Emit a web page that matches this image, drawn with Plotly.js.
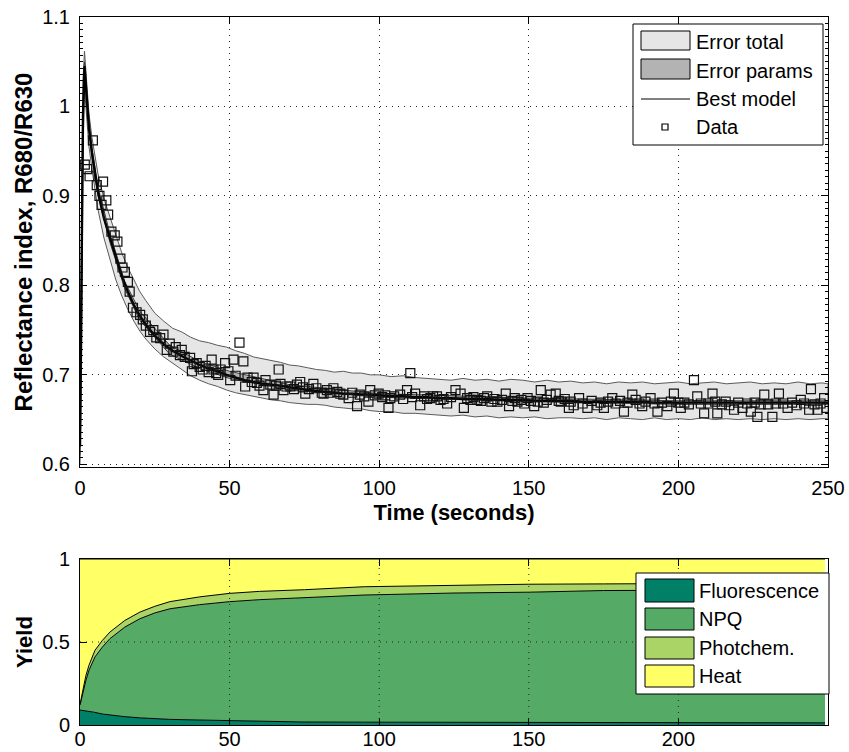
<!DOCTYPE html>
<html><head><meta charset="utf-8">
<script src="https://cdn.plot.ly/plotly-3.0.1.min.js"></script>
<style>html,body{margin:0;padding:0;background:#fff;}#chart{width:849px;height:752px;}</style>
</head><body><div id="chart"></div>
<script>
// ---------- DATA ----------
const bandTime = [0,0.5,1,1.5,2,3,4,5,6,8,10,12,14,16,18,20,22,25,28,31,34,37,40,43,46,49,52,55,58,61,64,67,70,73,76,79,82,85,88,91,94,97,100,104,108,112,116,120,124,128,132,136,140,144,148,152,156,160,164,168,172,176,180,184,188,192,196,200,204,208,212,216,220,224,228,232,236,240,244,248,250];
const errTotalUpper = [0.66,0.85,1.03,1.062,1.04,0.992,0.965,0.943,0.925,0.897,0.876,0.855,0.836,0.820,0.806,0.793,0.783,0.769,0.760,0.752,0.748,0.742,0.738,0.736,0.733,0.731,0.727,0.724,0.720,0.718,0.716,0.714,0.711,0.710,0.708,0.706,0.705,0.703,0.704,0.702,0.702,0.700,0.700,0.698,0.699,0.697,0.696,0.695,0.694,0.696,0.694,0.695,0.693,0.695,0.694,0.692,0.694,0.692,0.693,0.691,0.692,0.690,0.692,0.691,0.692,0.690,0.691,0.692,0.690,0.691,0.692,0.690,0.691,0.692,0.690,0.691,0.690,0.692,0.690,0.691,0.690];
const errTotalLower = [0.60,0.70,0.95,1.02,0.995,0.955,0.930,0.905,0.885,0.853,0.829,0.806,0.788,0.773,0.760,0.749,0.740,0.729,0.720,0.712,0.706,0.699,0.694,0.690,0.687,0.683,0.680,0.678,0.676,0.674,0.672,0.671,0.669,0.668,0.667,0.667,0.666,0.664,0.663,0.662,0.662,0.660,0.659,0.659,0.657,0.657,0.656,0.655,0.654,0.655,0.653,0.654,0.652,0.653,0.652,0.653,0.651,0.652,0.652,0.651,0.652,0.650,0.652,0.651,0.650,0.652,0.650,0.651,0.650,0.652,0.650,0.651,0.650,0.651,0.650,0.651,0.650,0.651,0.650,0.651,0.651];
const bestModel = [0.62,0.78,0.99,1.045,1.02,0.975,0.948,0.925,0.905,0.875,0.853,0.830,0.810,0.793,0.778,0.766,0.756,0.744,0.734,0.727,0.721,0.716,0.711,0.707,0.704,0.700,0.697,0.694,0.692,0.690,0.689,0.688,0.686,0.685,0.683,0.682,0.681,0.680,0.679,0.679,0.678,0.678,0.677,0.676,0.676,0.675,0.675,0.674,0.674,0.673,0.673,0.673,0.672,0.672,0.672,0.671,0.671,0.671,0.671,0.670,0.670,0.670,0.670,0.670,0.670,0.669,0.669,0.669,0.669,0.669,0.669,0.669,0.669,0.669,0.669,0.669,0.669,0.669,0.669,0.669,0.669];

const paramTime = [0,1,1.5,2,4,6,10,15,20,30,40,50,70,100,150,200,250];
const errParamsUpper = [0.63,1.00,1.050,1.026,0.953,0.910,0.858,0.804,0.771,0.733,0.715,0.704,0.689,0.679,0.674,0.671,0.671];
const errParamsLower = [0.61,0.98,1.040,1.014,0.943,0.900,0.848,0.796,0.761,0.723,0.707,0.696,0.683,0.675,0.670,0.667,0.667];

const dataTime = [1.6,2.4,3.2,4.3,5.6,6.5,7.2,7.7,8.8,9.4,10.5,11.6,12.5,13.5,14.2,15,16,16.6,17.7,18.9,20.1,21,22,23.4,24.5,25.5,26.8,27.9,29,30,31.2,32,33.4,34,35,36.8,37.4,38,39,40,41,42,43,44,44.6,45.5,46.2,47,48.5,49.6,50.2,51.3,52,53.3,54.6,55.2,56,57.4,58,59.1,60,61.3,62,63.6,64.7,65.5,66.4,67,68,69,70.3,71.5,72.5,73.6,74.5,75.3,76.5,78,79,80.8,81.4,82.5,83.5,84.7,86,87,88,89.8,91,92.6,93.5,95,96.4,97,98.5,99.8,101,102,103.1,103.7,105,107,108,109.3,110.4,111,112,113.7,115,116,117.1,118,119.3,120.5,121.5,122.7,124,125.5,127.2,128.3,129.4,130.5,131.5,132.8,134,135,136.1,137.5,138.5,139.5,141,142.3,143.4,144.5,145.3,146.2,147.5,148.5,149.6,150.7,151.8,153,154,155,156,157.3,159,160,160.7,162,163.4,164,165,166.8,168,169.6,171,172.9,174,175.1,176.5,177.9,179,180.5,181.8,183,184.6,185.7,187,187.9,189,190.7,192,193,194.5,196.3,197.5,198.5,200,200.8,202,203.5,205.2,206.3,207.5,208.6,210,211.4,212.3,213,214.5,215.8,217,218.6,220,221.4,223,224.2,225.5,226.4,227.5,228.7,230,231.4,232.5,233.6,235,236.5,238,239.5,240.9,242,243.7,244.3,245.5,246.5,247.5,248.7,249.5];
const dataValue = [0.935,0.930,0.922,0.962,0.912,0.900,0.890,0.916,0.895,0.879,0.860,0.856,0.849,0.830,0.820,0.815,0.804,0.793,0.775,0.770,0.767,0.762,0.755,0.748,0.750,0.742,0.741,0.745,0.728,0.735,0.726,0.731,0.722,0.728,0.720,0.719,0.704,0.712,0.713,0.709,0.706,0.710,0.703,0.717,0.706,0.702,0.700,0.706,0.713,0.704,0.694,0.717,0.699,0.736,0.715,0.687,0.697,0.692,0.697,0.691,0.688,0.683,0.694,0.689,0.678,0.688,0.706,0.690,0.683,0.687,0.687,0.684,0.689,0.692,0.686,0.679,0.684,0.690,0.685,0.680,0.679,0.683,0.680,0.685,0.681,0.679,0.678,0.674,0.680,0.665,0.678,0.676,0.670,0.683,0.677,0.679,0.675,0.677,0.663,0.674,0.676,0.678,0.673,0.683,0.702,0.675,0.679,0.666,0.676,0.673,0.674,0.676,0.676,0.672,0.673,0.668,0.675,0.683,0.679,0.663,0.674,0.672,0.675,0.672,0.671,0.674,0.676,0.670,0.673,0.670,0.672,0.679,0.665,0.671,0.674,0.670,0.672,0.668,0.674,0.671,0.665,0.670,0.683,0.669,0.672,0.678,0.679,0.671,0.670,0.673,0.663,0.670,0.666,0.674,0.668,0.663,0.671,0.666,0.669,0.663,0.670,0.674,0.668,0.671,0.659,0.669,0.678,0.672,0.668,0.665,0.670,0.674,0.668,0.659,0.669,0.665,0.670,0.679,0.669,0.663,0.669,0.667,0.694,0.676,0.668,0.657,0.668,0.679,0.670,0.657,0.667,0.670,0.666,0.661,0.669,0.663,0.668,0.659,0.669,0.653,0.667,0.678,0.667,0.653,0.668,0.679,0.668,0.663,0.669,0.666,0.672,0.668,0.661,0.684,0.667,0.661,0.668,0.674,0.663];

const yieldTime = [0,1,2,3,5,7.5,10,15,20,25,30,40,50,60,75,95,125,150,175,200,225,249];
const fluorescence = [0.09,0.088,0.085,0.082,0.076,0.066,0.06,0.05,0.043,0.038,0.034,0.03,0.027,0.02,0.018,0.017,0.016,0.015,0.015,0.014,0.014,0.013];
const npq = [0.03,0.112,0.185,0.248,0.334,0.404,0.46,0.54,0.597,0.637,0.666,0.695,0.716,0.735,0.749,0.766,0.779,0.785,0.795,0.798,0.801,0.802];
const photochem = [0.005,0.02,0.03,0.03,0.04,0.04,0.04,0.04,0.04,0.04,0.043,0.047,0.05,0.05,0.048,0.05,0.048,0.048,0.04,0.04,0.04,0.04];
const heat = [0.875,0.78,0.70,0.64,0.55,0.49,0.44,0.37,0.32,0.285,0.257,0.228,0.207,0.195,0.185,0.167,0.157,0.152,0.15,0.148,0.145,0.145];

const xTicksTop = [0,50,100,150,200,250];
const yTicksTop = [0.6,0.7,0.8,0.9,1.0,1.1];
const yTickTextTop = ['0.6','0.7','0.8','0.9','1','1.1'];
const xTicksBottom = [0,50,100,150,200];
const yTicksBottom = [0,0.5,1];
const yTickTextBottom = ['0','0.5','1'];

const topLegend = ['Error total','Error params','Best model','Data'];
const bottomLegend = ['Fluorescence','NPQ','Photchem.','Heat'];

// ---------- STYLE / LAYOUT ----------
const W = 849, H = 752, ML = 80, MR = 21, MT = 17, MB = 27;
const PW = W - ML - MR, PH = H - MT - MB;
const fx = px => (px - ML) / PW;
const fy = py => (H - MB - py) / PH;
const FONT = 'Liberation Sans, Arial, Helvetica, sans-serif';
const summer = ['#008066', '#55AA66', '#AAD466', '#FFFF66'];

function poly(x, up, lo) {
  return { x: x.concat(x.slice().reverse()), y: up.concat(lo.slice().reverse()) };
}
const pTot = poly(bandTime, errTotalUpper, errTotalLower);
const pPar = poly(paramTime, errParamsUpper, errParamsLower);

const traces = [
  { x: pTot.x, y: pTot.y, name: topLegend[0], type: 'scatter', mode: 'lines', fill: 'toself',
    fillcolor: '#e6e6e6', line: { color: '#5a5a5a', width: 1 }, xaxis: 'x', yaxis: 'y', showlegend: false, hoverinfo: 'skip' },
  { x: pPar.x, y: pPar.y, name: topLegend[1], type: 'scatter', mode: 'lines', fill: 'toself',
    fillcolor: '#b3b3b3', line: { color: '#404040', width: 1 }, xaxis: 'x', yaxis: 'y', showlegend: false },
  { x: bandTime, y: bestModel, name: topLegend[2], type: 'scatter', mode: 'lines',
    line: { color: '#000', width: 2.4 }, xaxis: 'x', yaxis: 'y', showlegend: false },
  { x: dataTime, y: dataValue, name: topLegend[3], type: 'scatter', mode: 'markers',
    marker: { symbol: 'square-open', size: 9, color: '#111', line: { width: 1.2 } }, xaxis: 'x', yaxis: 'y', showlegend: false }
];
const yieldSeries = [fluorescence, npq, photochem, heat];
yieldSeries.forEach((s, i) => traces.push({
  x: yieldTime, y: s, name: bottomLegend[i], type: 'scatter', mode: 'lines', stackgroup: 'yield',
  fillcolor: summer[i], line: { color: '#000', width: 1 }, xaxis: 'x2', yaxis: 'y2', showlegend: false
}));

const tickFont = { family: FONT, size: 20, color: '#000' };
const axBase = {
  showline: true, linecolor: '#000', linewidth: 1, mirror: 'ticks', ticks: 'inside', ticklen: 7,
  tickcolor: '#000', zeroline: false, tickfont: tickFont, layer: 'above traces'
};
const gridDash = '1px,5px';

const shapes = [];
const annotations = [];
// bottom-panel grid (drawn above the areas)
[50, 100, 150, 200].forEach(v => shapes.push({ type: 'line', xref: 'x2', yref: 'y2', x0: v, x1: v, y0: 0, y1: 1,
  line: { color: '#222', width: 1, dash: gridDash }, layer: 'above' }));
shapes.push({ type: 'line', xref: 'x2', yref: 'y2', x0: 0, x1: 250, y0: 0.5, y1: 0.5,
  line: { color: '#222', width: 1, dash: gridDash }, layer: 'above' });

function rect(x0, y0, x1, y1, fill, lw) {
  shapes.push({ type: 'rect', xref: 'paper', yref: 'paper', x0: fx(x0), x1: fx(x1), y0: fy(y1), y1: fy(y0),
    fillcolor: fill, line: { color: '#000', width: lw }, layer: 'above' });
}
function label(x, y, t) {
  annotations.push({ xref: 'paper', yref: 'paper', x: fx(x), y: fy(y), text: t, showarrow: false,
    xanchor: 'left', yanchor: 'middle', font: { family: FONT, size: 20, color: '#000' } });
}
// top legend
rect(633, 24, 823, 145, '#fff', 1);
rect(641, 31, 690, 50, '#e6e6e6', 1);
rect(641, 59, 690, 79, '#b3b3b3', 1);
shapes.push({ type: 'line', xref: 'paper', yref: 'paper', x0: fx(641), x1: fx(690), y0: fy(99), y1: fy(99),
  line: { color: '#000', width: 1 }, layer: 'above' });
rect(662, 124, 668, 130, 'rgba(0,0,0,0)', 1.2);
[42, 71, 99, 127].forEach((yy, i) => label(694, yy, topLegend[i]));
// bottom legend
rect(636, 573, 829, 694, '#fff', 1);
[[579, 602], [608, 630], [637, 659], [665, 687]].forEach((r, i) => rect(645, r[0], 694, r[1], summer[i], 1));
[590.5, 619, 648, 676].forEach((yy, i) => label(697, yy, bottomLegend[i]));

const layout = {
  width: W, height: H, margin: { l: ML, r: MR, t: MT, b: MB },
  paper_bgcolor: '#fff', plot_bgcolor: '#fff', showlegend: false,
  font: { family: FONT, size: 20, color: '#000' },
  xaxis: Object.assign({}, axBase, { domain: [0, 1], anchor: 'y', range: [0, 250], tickvals: xTicksTop,
    showgrid: true, gridcolor: '#222', gridwidth: 1, griddash: gridDash, ticklabelstandoff: 3,
    title: { text: '<b>Time (seconds)</b>', font: { family: FONT, size: 22, color: '#000' }, standoff: 6 } }),
  yaxis: Object.assign({}, axBase, { domain: [fy(467), 1], anchor: 'x', range: [0.597, 1.1],
    tickvals: yTicksTop, ticktext: yTickTextTop, showgrid: true, gridcolor: '#222', gridwidth: 1, griddash: gridDash,
    ticklabelstandoff: 5,
    minor: { ticks: 'inside', ticklen: 3, tickcolor: '#000', tick0: 0.6, dtick: 0.1 / 14, showgrid: false },
    title: { text: '<b>Reflectance index, R680/R630</b>', font: { family: FONT, size: 24, color: '#000' }, standoff: 2 } }),
  xaxis2: Object.assign({}, axBase, { domain: [0, 1], anchor: 'y2', range: [0, 250], tickvals: xTicksBottom,
    showgrid: false, ticklabelstandoff: -4 }),
  yaxis2: Object.assign({}, axBase, { domain: [0, fy(559)], anchor: 'x2', range: [0, 1],
    tickvals: yTicksBottom, ticktext: yTickTextBottom, showgrid: false, ticklabelstandoff: 5,
    title: { text: '<b>Yield</b>', font: { family: FONT, size: 22, color: '#000' }, standoff: 3 } }),
  shapes: shapes, annotations: annotations
};

Plotly.newPlot('chart', traces, layout, { displayModeBar: false, staticPlot: true });
</script></body></html>
